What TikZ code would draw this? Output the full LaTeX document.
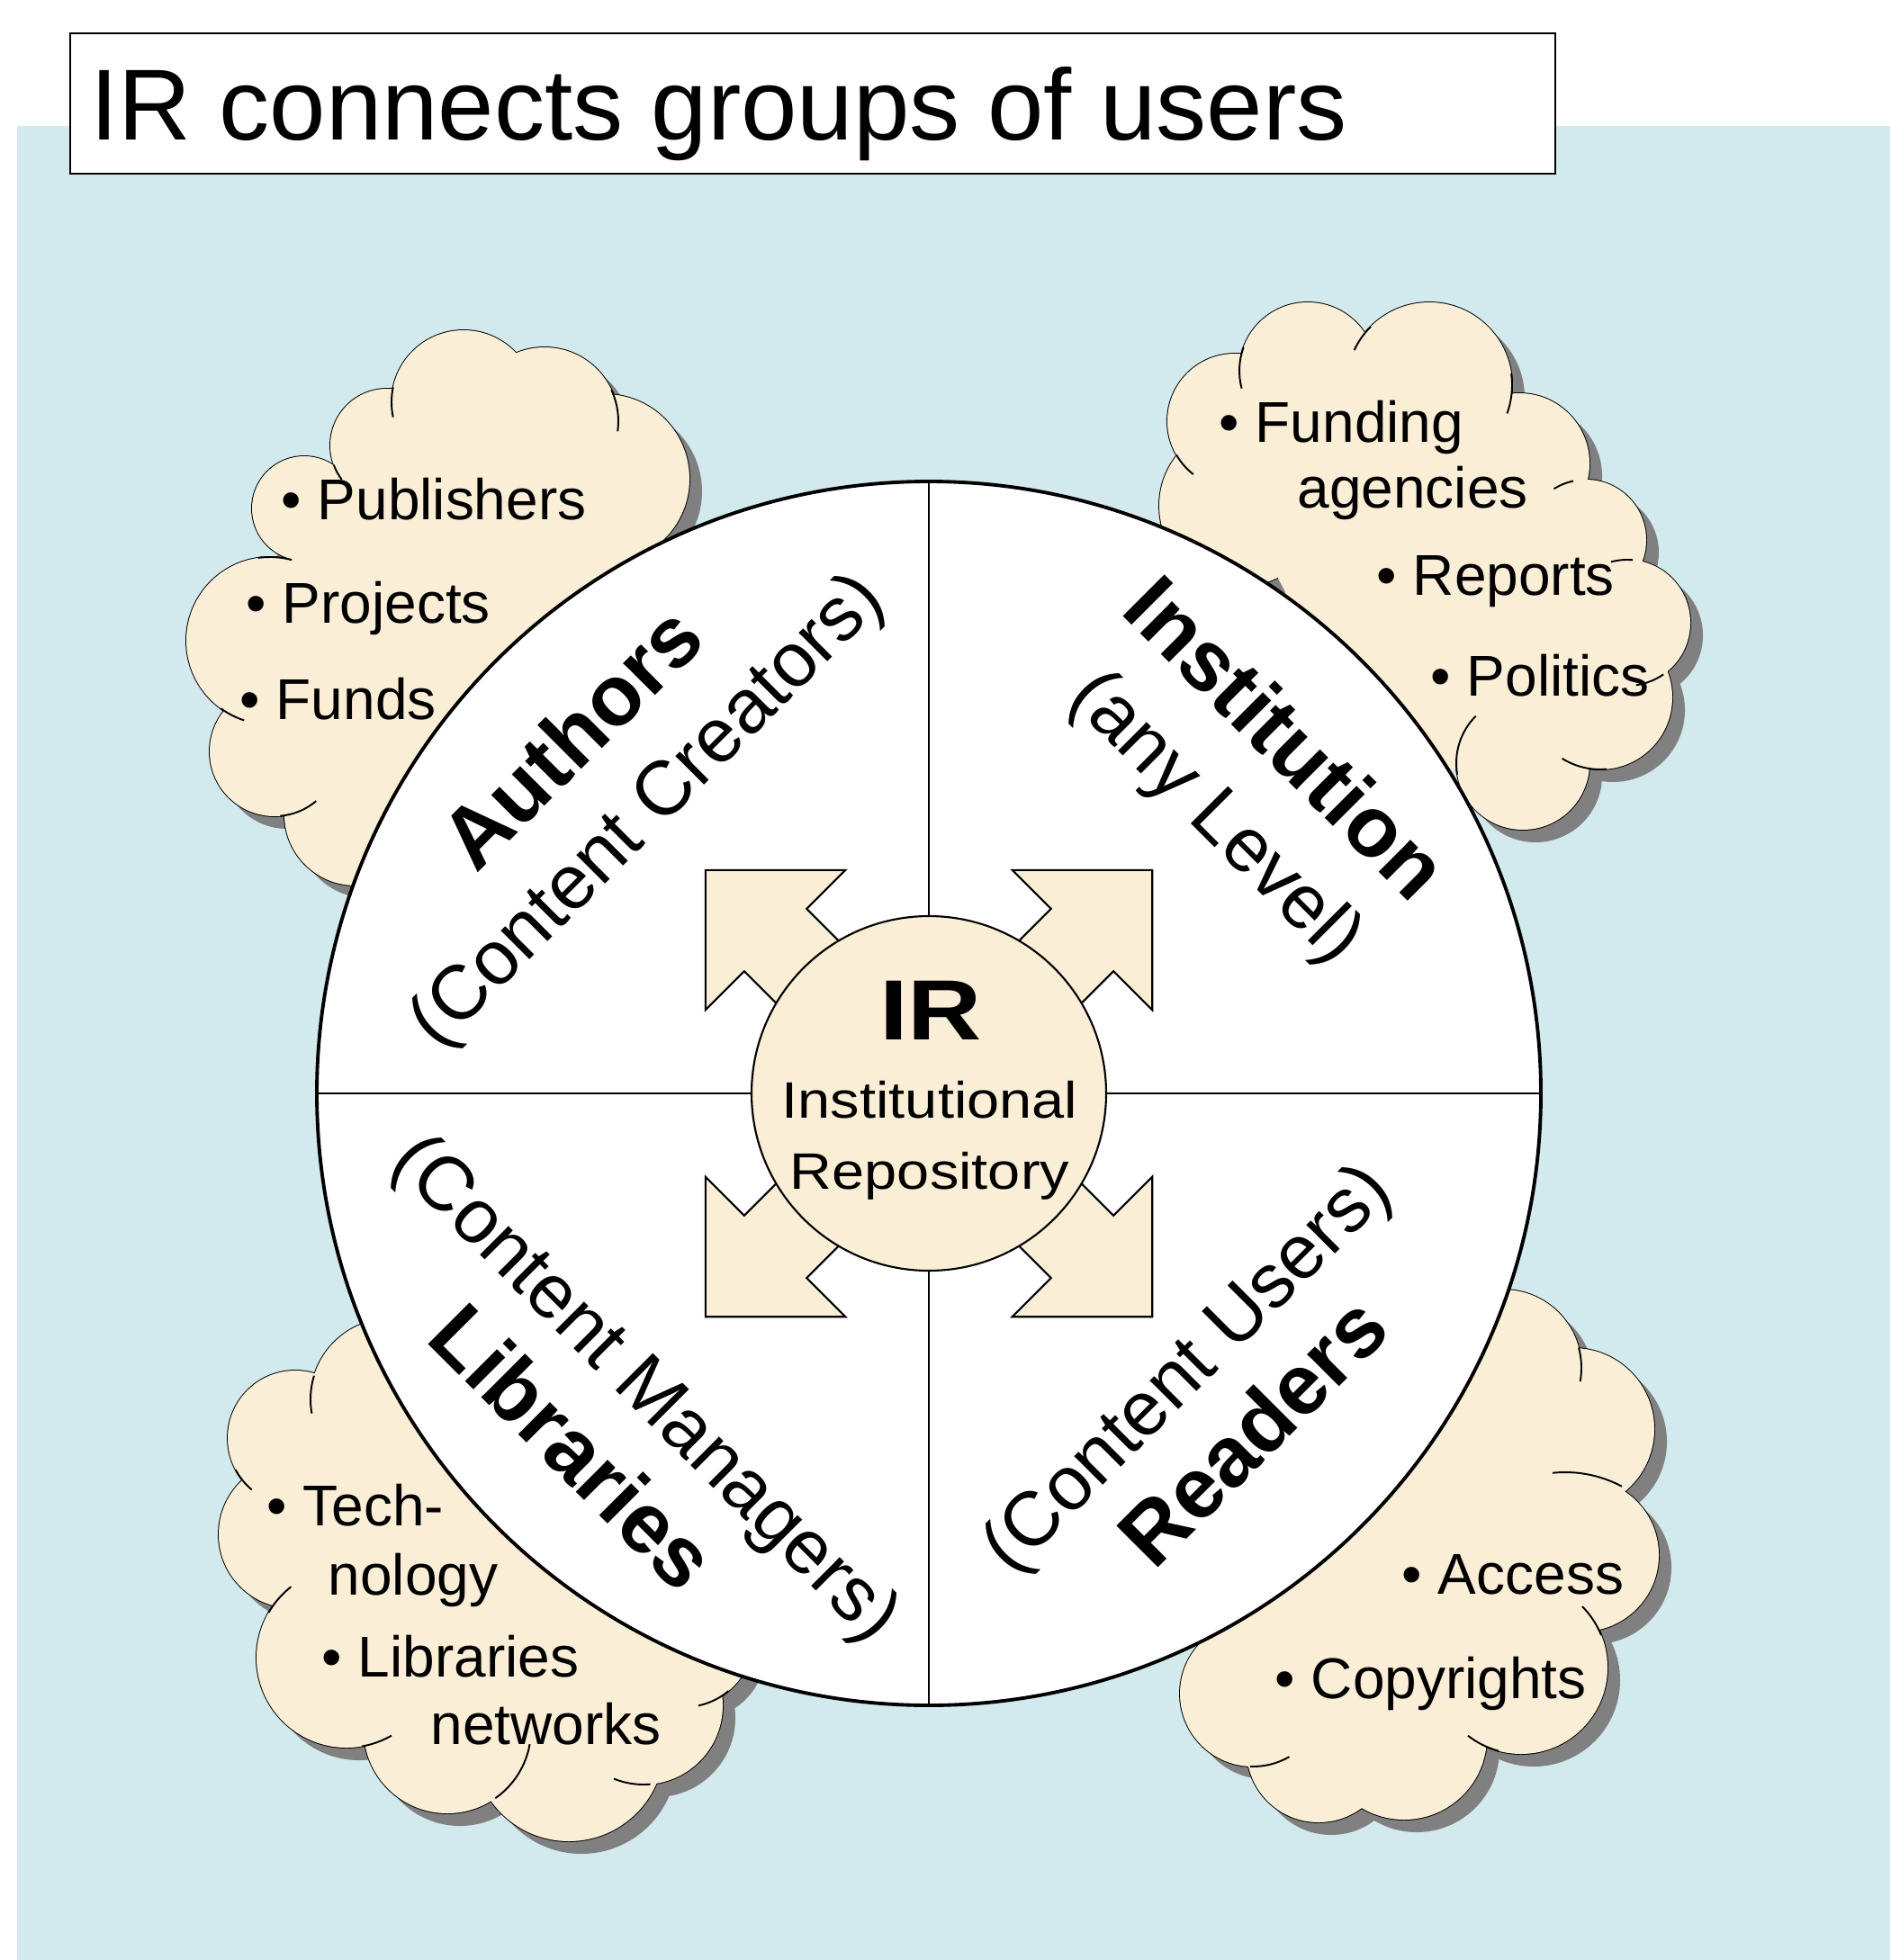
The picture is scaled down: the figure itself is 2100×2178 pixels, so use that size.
\documentclass[tikz,border=0pt]{standalone}
\usepackage{fontspec}
\setmainfont{Liberation Sans}
\newfontfamily\irfont[FakeStretch=1.14]{Liberation Sans}
\newfontfamily\irbigfont[FakeStretch=1.2]{Liberation Sans}
\usetikzlibrary{calc}
\definecolor{bgblue}{RGB}{210,234,237}
\definecolor{beige}{RGB}{250,238,214}
\definecolor{cshadow}{RGB}{128,128,128}
\tikzset{
  cloudline/.style={draw=black, line width=0.55pt},
  lobe/.style={fill=beige, draw=black, line width=0.55pt},
  bullettext/.style={anchor=base west, inner sep=0pt, font=\fontsize{18.2}{21}\selectfont},
  headtext/.style={anchor=base, inner sep=0pt, font=\fontsize{27}{31}\selectfont\bfseries},
  subtext/.style={anchor=base, inner sep=0pt, font=\fontsize{24.2}{28}\selectfont},
  blockarrow/.style={fill=beige, draw=black, line width=0.6pt, line join=miter},
}
\newcommand{\cloudarc}[5]{\draw[cloudline] (#1,#2) ++(#4:#3) arc[start angle=#4, end angle=#5, radius=#3];}
\def\TL{515/447/80, 605/468/82, 672/532/94, 430/495/63, 338/565/58, 300/712/93, 305/835/72, 395/905/79}
\def\TR{1453/412/76, 1588/428/92, 1688/515/78, 1762/600/67, 1808/692/70, 1778/775/80, 1692/848/74, 1372/468/75, 1378/562/90}
\def\BL{435/1555/90, 328/1598/75, 325/1705/82, 385/1842/100, 497/1922/93, 632/1940/106, 715/1895/88, 760/1820/77}
\def\BR{1670/1520/87, 1748/1588/90, 1758/1728/85, 1690/1853/96, 1560/1930/92, 1465/1945/80, 1392/1882/81}
\begin{document}
\begin{tikzpicture}[x=0.1mm, y=-0.1mm]
\fill[white] (0,0) rectangle (2100,2178);
\useasboundingbox (0,0) rectangle (2100,2178);
\fill[bgblue] (19,140) rectangle (2100,2178);
% title
\draw[fill=white, line width=0.8pt] (78,37) rectangle (1728,193);
\node[anchor=base west, inner sep=0pt, font=\fontsize{31.9}{36}\selectfont] (title) at (100,156) {IR connects groups of users};
% cloud shadows
\foreach \x/\y/\r in \TL {\fill[cshadow] (\x+14,\y+14) circle[radius=\r];}
\foreach \x/\y/\r in \TR {\fill[cshadow] (\x+14,\y+14) circle[radius=\r];}
\foreach \x/\y/\r in \BL {\fill[cshadow] (\x+14,\y+14) circle[radius=\r];}
\foreach \x/\y/\r in \BR {\fill[cshadow] (\x+14,\y+14) circle[radius=\r];}
% cloud outlines
\foreach \x/\y/\r in \TL {\draw[lobe] (\x,\y) circle[radius=\r];}
\foreach \x/\y/\r in \TR {\draw[lobe] (\x,\y) circle[radius=\r];}
\foreach \x/\y/\r in \BL {\draw[lobe] (\x,\y) circle[radius=\r];}
\foreach \x/\y/\r in \BR {\draw[lobe] (\x,\y) circle[radius=\r];}
% cloud interiors
\fill[beige] (515,447)--(605,468)--(672,532)--(720,640)--(600,800)--(395,905)--(305,835)--(300,712)--(338,565)--(430,495)--cycle;
\fill[beige] (1453,412)--(1588,428)--(1688,515)--(1762,600)--(1808,692)--(1778,775)--(1692,848)--(1560,860)--(1450,700)--(1378,562)--(1372,468)--cycle;
\fill[beige] (435,1555)--(560,1450)--(800,1700)--(760,1820)--(715,1895)--(632,1940)--(497,1922)--(385,1842)--(325,1705)--(328,1598)--cycle;
\fill[beige] (1670,1520)--(1748,1588)--(1758,1728)--(1690,1853)--(1560,1930)--(1465,1945)--(1392,1882)--(1350,1760)--(1500,1600)--(1600,1450)--cycle;
\foreach \x/\y/\r in \TL {\fill[beige] (\x,\y) circle[radius=\r];}
\foreach \x/\y/\r in \TR {\fill[beige] (\x,\y) circle[radius=\r];}
\foreach \x/\y/\r in \BL {\fill[beige] (\x,\y) circle[radius=\r];}
\foreach \x/\y/\r in \BR {\fill[beige] (\x,\y) circle[radius=\r];}
% inner cloud strokes
\cloudarc{515}{447}{80}{192}{168}
\cloudarc{605}{468}{82}{-25}{8}
\cloudarc{430}{495}{63}{160}{143}
\cloudarc{300}{712}{93}{262}{285}
\cloudarc{300}{712}{93}{126}{108}
\cloudarc{305}{835}{72}{85}{50}
\cloudarc{1453}{412}{76}{200}{165}
\cloudarc{1588}{428}{92}{225}{205}
\cloudarc{1588}{428}{92}{-8}{20}
\cloudarc{1762}{600}{67}{258}{238}
\cloudarc{1808}{692}{70}{275}{255}
\cloudarc{1808}{692}{70}{55}{82}
\cloudarc{1778}{775}{80}{85}{122}
\cloudarc{1692}{848}{74}{225}{170}
\cloudarc{1372}{468}{75}{150}{128}
\cloudarc{435}{1555}{90}{197}{170}
\cloudarc{328}{1598}{75}{152}{130}
\cloudarc{385}{1842}{100}{210}{232}
\cloudarc{385}{1842}{100}{80}{60}
\cloudarc{497}{1922}{93}{55}{10}
\cloudarc{715}{1895}{88}{85}{112}
\cloudarc{760}{1820}{77}{50}{78}
\cloudarc{1670}{1520}{87}{-15}{10}
\cloudarc{1739}{1770}{134}{264}{298}
\cloudarc{1690}{1853}{96}{-22}{-45}
\cloudarc{1690}{1853}{96}{105}{128}
\cloudarc{1392}{1882}{81}{92}{60}
% cloud texts
\node[bullettext] (b1) at (312,578) {• Publishers};
\node[bullettext] (b2) at (273,692) {• Projects};
\node[bullettext] (b3) at (266,799) {• Funds};
\node[bullettext] (b4) at (1354,492) {• Funding};
\node[bullettext] (b4b) at (1441,565) {agencies};
\node[bullettext] (b5) at (1529,661) {• Reports};
\node[bullettext] (b6) at (1589,773) {• Politics};
\node[bullettext] (b7) at (296,1695) {• Tech-};
\node[bullettext] (b7b) at (364,1772) {nology};
\node[bullettext] (b8) at (357,1863) {• Libraries};
\node[bullettext] (b8b) at (478,1938) {networks};
\node[bullettext] (b9) at (1557,1771) {• Access};
\node[bullettext] (b10) at (1416,1887) {• Copyrights};
% main circle
\node[circle, draw, fill=white, line width=1.1pt, minimum size=136mm, inner sep=0pt] (main) at (1032,1215) {};
\draw[line width=0.5pt] (main.north) -- (main.south);
\draw[line width=0.5pt] (main.west) -- (main.east);
% block arrows
\foreach \a in {45,135,225,315} {
  \begin{scope}[shift={(1032,1215)}, rotate=\a]
    \draw[blockarrow] (0,-49) -- (241,-49) -- (241,-110) -- (351,0) -- (241,110) -- (241,49) -- (0,49) -- cycle;
  \end{scope}
}
% inner circle
\node[circle, draw, fill=beige, line width=0.6pt, minimum size=39.4mm, inner sep=0pt] (ir) at (1032,1215) {};
\node[anchor=base, inner sep=0pt, font={\fontsize{27}{30}\irbigfont\bfseries}] (irlabel) at (1034,1155) {IR};
\node[anchor=base, inner sep=0pt, font={\fontsize{16.2}{19}\irfont}] (irl1) at (1033,1242) {Institutional};
\node[anchor=base, inner sep=0pt, font={\fontsize{16.2}{19}\irfont}] (irl2) at (1033,1321) {Repository};
% quadrant labels
\node[headtext, rotate=45] (authors) at (658,843) {Authors};
\node[subtext, rotate=45] (creators) at (737,918) {(Content Creators)};
\node[headtext, rotate=-45] (institution) at (1406,843) {Institution};
\node[subtext, rotate=-45] (level) at (1334,926) {(any Level)};
\node[headtext, rotate=-45] (libraries) at (613,1631) {Libraries};
\node[subtext, rotate=-45] (managers) at (700,1561) {(Content Managers)};
\node[headtext, rotate=45] (readers) at (1415,1614) {Readers};
\node[subtext, rotate=45] (users) at (1337,1539) {(Content Users)};
\end{tikzpicture}
\end{document}
